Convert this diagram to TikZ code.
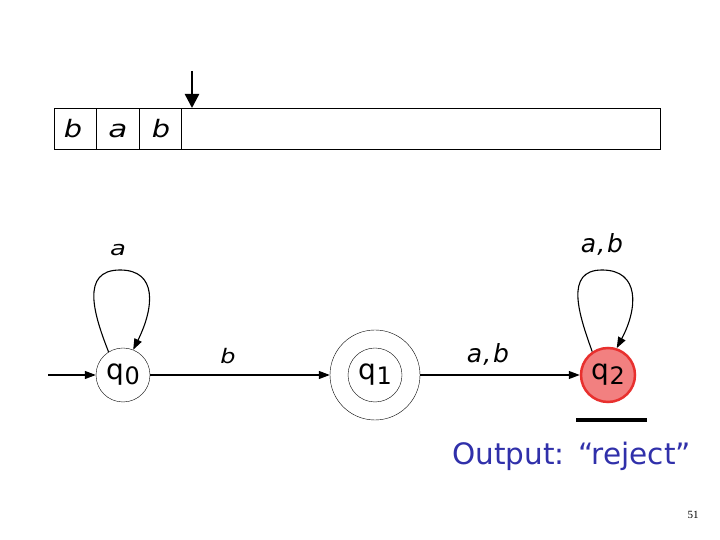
\documentclass[tikz,border=0pt]{standalone}
\usepackage{fontspec}
\setmainfont{DejaVu Sans}
\newfontfamily\numfont{Liberation Serif}
\usetikzlibrary{arrows.meta}
\definecolor{qred}{RGB}{232,48,46}
\definecolor{qfill}{RGB}{242,128,128}
\definecolor{outblue}{RGB}{48,48,170}
\tikzset{
  state/.style={circle,draw,thin,minimum size=54pt,inner sep=0pt,font=\fontsize{28}{30}\selectfont},
  lab/.style={font=\fontsize{24}{26}\selectfont\itshape,inner sep=0pt},
  edge/.style={-{Triangle[length=11pt,width=8pt]},line width=1.1pt},
  cell/.style={draw,thin,minimum height=41pt,inner sep=0pt,anchor=south west}
}
\newcommand{\qs}[1]{q\kern0.5pt\raisebox{-0.3ex}{\fontsize{24}{24}\selectfont #1}}
\newcommand{\wa}{\scalebox{1.3}[1]{a}}
\newcommand{\wb}{\scalebox{1.2}[1]{b}}
\begin{document}
\begin{tikzpicture}[x=1pt,y=1pt]
\useasboundingbox (0,0) rectangle (720,540);
% tape
\node[cell,minimum width=42pt] (c1) at (54,391) {};
\node[cell,minimum width=43pt] (c2) at (96,391) {};
\node[cell,minimum width=42pt] (c3) at (139,391) {};
\node[cell,minimum width=479pt] (c4) at (181,391) {};
\node[lab,anchor=base,font=\fontsize{24}{26}\selectfont\itshape] (t1) at (73,402) {\wb};
\node[lab,anchor=base,font=\fontsize{24}{26}\selectfont\itshape] (t2) at (118,402) {\wa};
\node[lab,anchor=base,font=\fontsize{24}{26}\selectfont\itshape] (t3) at (161,402) {\wb};
\coordinate (headtop) at (192,469);
\coordinate (headtip) at (192,432);
\draw[line width=2.5pt,-{Triangle[length=14pt,width=14pt]}] (headtop) -- (headtip);
% states
\node[state] (q0) at (123,165) {\qs{0}};
\node[state] (q1) at (375,165) {\qs{1}};
\node[circle,draw,thin,minimum size=90pt] (q1o) at (375,165) {};
\node[state,draw=qred,fill=qfill,line width=2.5pt,minimum size=54pt] (q2) at (608,165) {\qs{2}};
% start
\coordinate (start) at (48,165);
\draw[edge] (start) -- (q0);
\draw[edge] (q0) -- (q1o);
\draw[edge] (q1o) -- (q2);
\node[lab,anchor=base,font=\fontsize{20}{22}\selectfont\itshape] (lb) at (228,176) {\wb};
\node[lab,anchor=base,font=\fontsize{25}{26}\selectfont\itshape] (lab12) at (488,177) {a\kern1pt,\kern2pt b};
% loops
\draw[edge] (q0.122) .. controls (94,225) and (80,270) .. (120,270) .. controls (158,270) and (154,232) .. (q0.68);
\node[lab,anchor=base,font=\fontsize{20}{22}\selectfont\itshape] (la) at (118,284) {\wa};
\draw[edge] (q2.124) .. controls (579,225) and (564,270) .. (602,270) .. controls (640,270) and (638,232) .. (q2.72);
\node[lab,anchor=base,font=\fontsize{25}{26}\selectfont\itshape] (lab22) at (602,287) {a\kern1pt,\kern2pt b};
% bar and output
\coordinate (bl) at (576,120);
\coordinate (br) at (647,120);
\draw[line width=4pt] (bl) -- (br);
\node[text=outblue,font=\fontsize{29.5}{30}\selectfont,anchor=base west,inner sep=0pt] (out) at (452,75) {Output:\kern1pt{} “reject”};
\node[font=\numfont\fontsize{11}{12}\selectfont] (pg) at (693,25) {51};
\end{tikzpicture}
\end{document}
